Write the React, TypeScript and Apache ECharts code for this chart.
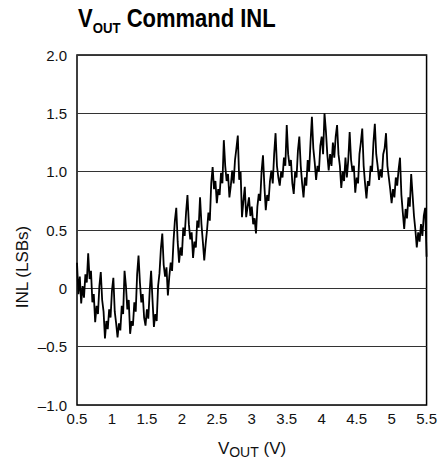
import { useEffect, useRef } from "react";
import * as echarts from "echarts";

// Sweep grid of the VOUT command (V)
const X_START = 0.5;
const X_STEP = 0.02;

// INL (LSBs), one value per 0.02 V step from 0.50 V to 5.50 V
const inlValues: number[] = [
  0.22, -0.05, 0.10, -0.13, 0.02, -0.08, 0.12, 0.05, 0.30, 0.08,
  0.15, -0.12, -0.05, -0.29, -0.15, -0.22, 0.02, 0.14, -0.10, -0.20,
  -0.43, -0.28, -0.35, -0.18, -0.25, -0.02, 0.09, -0.20, -0.30, -0.42,
  -0.30, -0.36, -0.15, -0.22, 0.15, 0.02, -0.18, -0.10, -0.39, -0.28,
  -0.32, -0.12, -0.20, 0.12, 0.28, 0.05, -0.12, -0.05, -0.25, -0.32,
  -0.18, -0.26, -0.02, 0.15, -0.10, -0.33, -0.22, -0.28, 0.02, 0.13,
  0.34, 0.47, 0.20, 0.10, 0.18, -0.06, 0.10, 0.22, 0.15, 0.40,
  0.58, 0.69, 0.40, 0.22, 0.35, 0.28, 0.52, 0.45, 0.65, 0.80,
  0.55, 0.42, 0.48, 0.26, 0.40, 0.35, 0.58, 0.52, 0.78, 0.55,
  0.40, 0.24, 0.38, 0.50, 0.65, 0.58, 0.90, 1.04, 0.85, 0.92,
  0.73, 0.85, 0.80, 0.99, 0.90, 1.27, 1.05, 0.92, 0.98, 0.78,
  0.88, 1.01, 0.90, 1.10, 1.20, 1.31, 0.93, 1.00, 0.61, 0.75,
  0.87, 0.61, 0.70, 0.78, 0.62, 0.70, 0.55, 0.60, 0.47, 0.70,
  0.81, 0.75, 1.00, 1.14, 0.88, 0.67, 0.80, 0.75, 0.92, 1.01,
  0.90, 1.15, 1.33, 1.05, 0.95, 0.88, 1.00, 0.95, 1.12, 1.05,
  1.40, 1.15, 1.05, 1.10, 0.90, 0.81, 1.00, 0.95, 1.18, 1.30,
  1.05, 0.90, 0.78, 0.95, 0.88, 1.10, 1.00, 1.25, 1.47, 1.20,
  1.08, 0.93, 1.05, 1.00, 1.22, 1.30, 1.15, 1.50, 1.35, 1.15,
  1.01, 1.15, 1.05, 1.25, 1.12, 1.30, 1.40, 1.15, 1.05, 0.86,
  1.00, 0.92, 1.12, 0.95, 1.10, 1.34, 1.10, 1.00, 1.05, 0.82,
  0.95, 0.90, 1.15, 1.25, 1.37, 1.05, 0.90, 0.77, 0.92, 0.88,
  1.05, 1.00, 1.25, 1.41, 1.15, 1.05, 0.93, 1.02, 0.95, 1.15,
  1.20, 1.33, 1.05, 0.95, 0.85, 0.73, 0.85, 0.78, 0.95, 0.88,
  1.02, 1.12, 0.80, 0.65, 0.51, 0.68, 0.60, 0.78, 0.70, 0.98,
  0.80, 0.62, 0.50, 0.35, 0.48, 0.40, 0.55, 0.45, 0.62, 0.69,
  0.27,
];

const X_MIN = 0.5;
const X_MAX = 5.5;
const X_INTERVAL = 0.5;
const Y_MIN = -1.0;
const Y_MAX = 2.0;
const Y_INTERVAL = 0.5;

const TITLE_MAIN = "V";
const TITLE_SUB = "OUT";
const TITLE_REST = " Command INL";
const X_NAME_MAIN = "V";
const X_NAME_SUB = "OUT";
const X_NAME_REST = " (V)";
const Y_NAME = "INL (LSBs)";

const FONT = "'Liberation Sans', Arial, sans-serif";

export default function App() {
  const ref = useRef<HTMLDivElement>(null);

  useEffect(() => {
    document.body.style.margin = "0";
    if (!ref.current) return;
    const chart = echarts.init(ref.current, null, { renderer: "svg" });

    const data = inlValues.map((v, i) => [
      Number((X_START + i * X_STEP).toFixed(2)),
      v,
    ]);

    chart.setOption({
      animation: false,
      backgroundColor: "#ffffff",
      grid: {
        left: 77,
        right: 12,
        top: 55,
        bottom: 59,
        show: true,
        borderColor: "#000",
        borderWidth: 1.5,
        backgroundColor: "transparent",
      },
      xAxis: {
        type: "value",
        min: X_MIN,
        max: X_MAX,
        interval: X_INTERVAL,
        axisLine: { show: false },
        axisTick: { show: false },
        splitLine: { show: false },
        axisLabel: {
          margin: 6,
          color: "#111",
          fontSize: 15,
          fontFamily: FONT,
          formatter: (v: number) => String(v),
        },
      },
      yAxis: {
        type: "value",
        min: Y_MIN,
        max: Y_MAX,
        interval: Y_INTERVAL,
        axisLine: { show: false },
        axisTick: { show: false },
        splitLine: { show: true, lineStyle: { color: "#333", width: 1 } },
        axisLabel: {
          margin: 10,
          color: "#111",
          fontSize: 15,
          fontFamily: FONT,
          formatter: (v: number) =>
            v === 0 ? "0" : v.toFixed(1).replace("-", "\u2013"),
        },
      },
      series: [
        {
          type: "line",
          data,
          showSymbol: false,
          symbol: "none",
          lineStyle: { color: "#000", width: 1.8 },
          z: 3,
        },
      ],
      graphic: [
        {
          type: "text",
          x: 78,
          y: 6,
          scaleX: 0.88,
          style: {
            text: `{a|${TITLE_MAIN}}{b|${TITLE_SUB}}{a|${TITLE_REST}}`,
            rich: {
              a: {
                fontSize: 25,
                fontWeight: "bold",
                fontFamily: FONT,
                lineHeight: 25,
                fill: "#000",
              },
              b: {
                fontSize: 15,
                fontWeight: "bold",
                fontFamily: FONT,
                lineHeight: 15,
                padding: [18, 0, 0, 0],
                fill: "#000",
              },
            },
          },
        },
        {
          type: "text",
          x: 252,
          y: 448,
          style: {
            text: `{a|${X_NAME_MAIN}}{b|${X_NAME_SUB}}{a|${X_NAME_REST}}`,
            align: "center",
            verticalAlign: "middle",
            rich: {
              a: {
                fontSize: 17,
                fontFamily: FONT,
                lineHeight: 17,
                fill: "#111",
              },
              b: {
                fontSize: 14,
                fontFamily: FONT,
                lineHeight: 14,
                padding: [7, 0, 0, 0],
                fill: "#111",
              },
            },
          },
        },
        {
          type: "text",
          x: 22,
          y: 267,
          rotation: Math.PI / 2,
          style: {
            text: Y_NAME,
            align: "center",
            verticalAlign: "middle",
            fontSize: 17,
            fontFamily: FONT,
            fill: "#111",
          },
        },
      ],
    });

    return () => chart.dispose();
  }, []);

  return <div ref={ref} style={{ width: 440, height: 464 }} />;
}
